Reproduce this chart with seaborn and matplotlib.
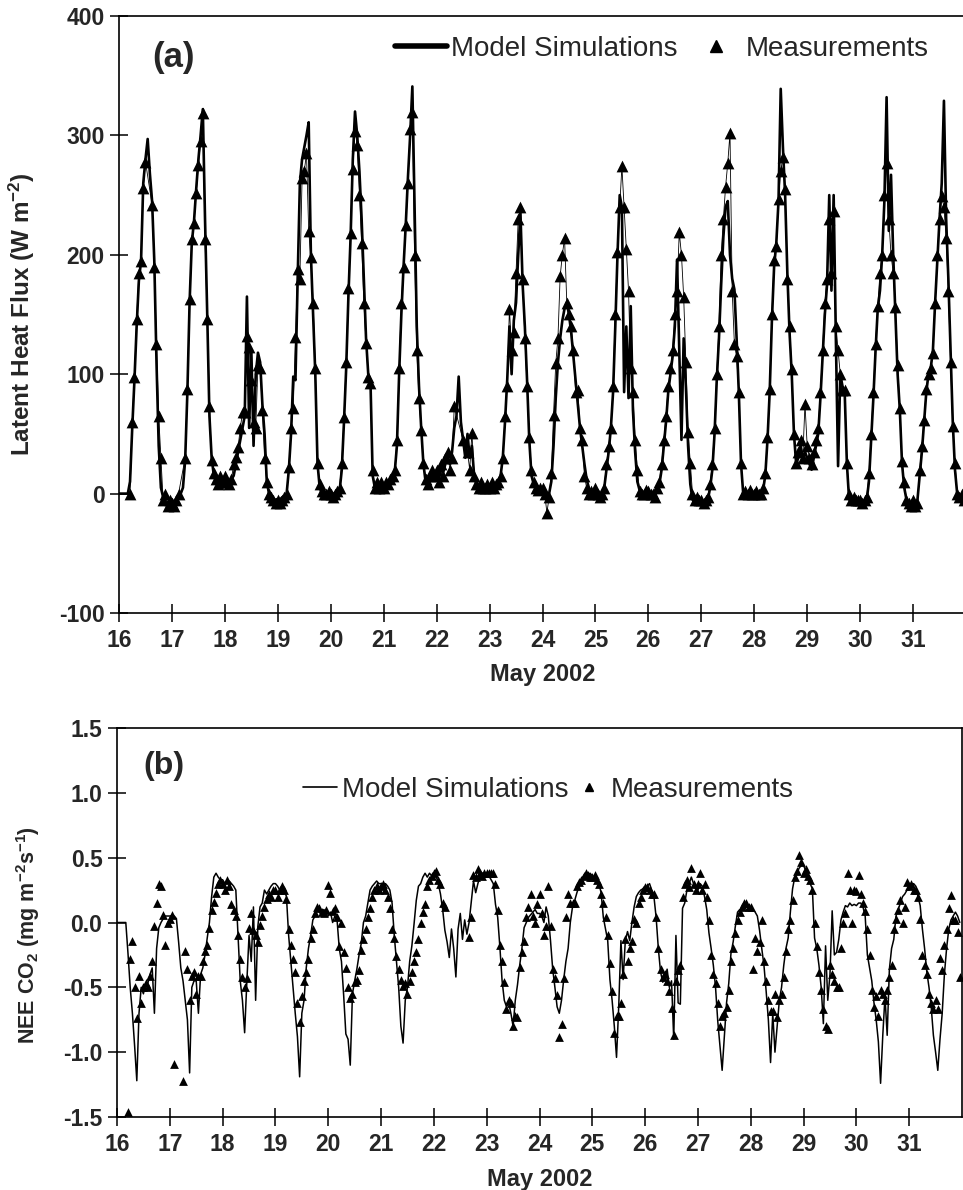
import numpy as np
import pandas as pd
import matplotlib
matplotlib.use("Agg")
import matplotlib.pyplot as plt
from matplotlib.lines import Line2D
import seaborn as sns

N = None
DAYS = list(range(16, 32))          # May 2002, hourly samples (hour 0..23 per row)

# ---------------- (a) Latent heat flux, W m-2 ----------------
LE_MODEL = [
    [0, 0, 0, 0, 0, 10, 55, 95, 140, 178, 195, 260, 280, 297, 268, 245, 195, 110, 40, 5, -3, -8, -8, -5],
    [-5, -8, -5, -3, 0, 5, 28, 85, 160, 210, 228, 255, 280, 300, 322, 230, 150, 65, 30, 15, 10, 8, 10, 5],
    [10, 8, 10, 12, 15, 25, 35, 45, 55, 65, 165, 55, 120, 40, 100, 118, 110, 75, 50, 10, 0, -3, -5, -5],
    [-5, -5, -3, -5, 0, 20, 50, 98, 95, 180, 260, 280, 290, 300, 311, 200, 150, 100, 25, 5, 0, 2, 0, 0],
    [0, -3, 0, 0, 2, 20, 60, 105, 165, 215, 280, 320, 300, 270, 230, 180, 130, 100, 95, 15, 5, 8, 5, 8],
    [5, 8, 10, 10, 12, 18, 40, 100, 150, 190, 225, 265, 300, 341, 240, 140, 90, 55, 25, 10, 8, 12, 18, 15],
    [15, 12, 20, 18, 25, 30, 25, 35, 55, 65, 98, 60, 45, 30, 50, 30, 40, 15, 8, 5, 8, 5, 5, 5],
    [5, 5, 8, 8, 10, 15, 30, 60, 95, 140, 100, 145, 160, 200, 235, 175, 140, 95, 45, 15, 8, 5, 3, 3],
    [5, 2, 0, 0, 10, 40, 80, 110, 130, 145, 155, 160, 150, 135, 115, 95, 75, 55, 40, 25, 12, 5, 0, -2],
    [5, 0, -2, 0, 5, 20, 35, 55, 85, 140, 200, 250, 240, 85, 140, 80, 157, 70, 35, 10, 3, 0, 0, 2],
    [2, 0, 0, -2, 3, 8, 20, 40, 60, 85, 100, 115, 140, 196, 120, 45, 130, 90, 40, 8, -5, -8, -8, -8],
    [-5, -8, -8, -5, 5, 20, 50, 95, 130, 175, 215, 240, 245, 200, 180, 171, 130, 85, 25, 0, 0, 0, 0, 0],
    [0, 0, 0, 0, 3, 15, 45, 85, 145, 190, 210, 245, 339, 290, 250, 185, 135, 100, 50, 25, 30, 40, 28, 35],
    [30, 25, 20, 30, 40, 50, 80, 115, 150, 175, 250, 170, 250, 130, 23, 100, 90, 85, 25, -5, -5, -8, -8, -8],
    [-5, -8, -8, -5, 10, 45, 80, 120, 155, 170, 200, 245, 332, 220, 267, 200, 150, 100, 70, 25, 5, -5, -8, -8],
    [-5, -8, -5, 15, 35, 60, 85, 100, 105, 120, 160, 195, 230, 260, 329, 230, 180, 120, 60, 20, 0, -3, -3, -5],
]
LE_MEAS = [
    [N, N, N, N, N, 0, 60, 98, 146, 185, 195, 256, 278, N, N, 242, 190, 125, 65, 30, -5, 0, -10, -5],
    [-8, -10, -5, 0, N, N, 30, 88, 163, 213, 227, 252, 275, 295, 319, 213, 146, 73, 28, 17, 12, 8, 15, 10],
    [15, 10, 8, 12, 25, 31, 39, 55, 68, 68, 132, 123, 95, 60, 55, 108, 105, 70, 30, 10, 0, -3, -5, -8],
    [-5, -8, -5, -3, 0, 22, 55, 72, 131, 188, 180, 264, 270, 285, 220, 198, 160, 105, 26, 8, 2, 0, 0, 2],
    [0, -3, 0, 2, 5, 26, 64, 110, 172, 218, 272, 304, 292, 250, 210, 160, 126, 98, 93, 20, 5, 10, 5, 10],
    [5, 10, 8, 12, 15, 20, 45, 105, 160, 190, 225, 260, 305, 320, 200, 120, 80, 53, 26, 12, 8, 15, 20, 15],
    [20, 10, 25, 15, 30, 35, 20, 30, 73, N, N, N, 45, N, 35, 20, 51, 15, 8, 5, 10, 5, 5, 8],
    [5, 10, 5, 8, 10, 15, 30, 65, 90, 155, 120, 135, 185, 230, 240, 180, 130, 90, 47, 20, 10, 5, 3, 5],
    [5, 0, -16, -3, 17, 66, 109, 130, 182, 200, 214, 160, 150, 140, 120, 85, 87, 55, 45, 15, 5, 0, 2, 0],
    [5, 0, -3, 0, 5, 25, 40, 55, 90, 150, 202, 240, 274, 240, 205, 170, 105, 85, 45, 20, 2, 0, 0, 3],
    [2, 0, 0, -3, 5, 10, 25, 45, 65, 90, 105, 120, 150, 170, 219, 200, 165, 110, 52, 26, 0, -5, -3, -5],
    [-5, -8, -5, -3, 8, 25, 55, 100, 140, 200, 230, 257, 277, 302, 170, 125, 115, 85, 26, 0, 2, 0, 3, 0],
    [0, 2, 0, 0, 5, 17, 47, 88, 150, 196, 207, 247, 270, 282, 255, 180, 140, 104, 50, 26, 35, 45, 30, 75],
    [40, 30, 25, 35, 45, 55, 85, 120, 160, 180, 230, 185, 237, 140, 120, 100, 87, 87, 26, 0, -5, -3, -5, -5],
    [-5, -8, -5, -3, 17, 50, 85, 125, 157, 185, 200, 250, 277, 230, 200, 185, 156, 108, 72, 27, 10, -5, -8, -10],
    [-5, -10, -8, 20, 40, 62, 88, 100, 105, 118, 160, 200, 230, 249, 240, 214, 170, 110, 57, 26, 0, -3, 0, -5],
]

# ---------------- (b) NEE CO2, mg m-2 s-1 ----------------
NEE_MODEL = [
    [0, 0, 0, 0, 0, -0.24, -0.5, -0.7, -0.95, -1.22, -0.7, -0.5, -0.55, -0.47, -0.47, -0.4, -0.35, -0.7, -0.2, -0.04, 0.0, 0.03, 0.05, 0.05],
    [0.05, 0.05, 0.05, 0.03, -0.15, -0.35, -0.45, -0.6, -0.75, -1.16, -0.5, -0.45, -0.45, -0.7, -0.4, -0.35, -0.25, -0.12, 0.0, 0.2, 0.35, 0.38, 0.35, 0.33],
    [0.33, 0.3, 0.3, 0.32, 0.3, 0.28, 0.25, -0.1, -0.45, -0.6, -0.85, -0.46, -0.1, -0.3, 0.12, -0.6, -0.03, 0.12, 0.15, 0.25, 0.22, 0.25, 0.28, 0.3],
    [0.3, 0.28, 0.25, 0.28, 0.25, 0.2, -0.1, -0.3, -0.5, -0.7, -0.88, -1.19, -0.7, -0.6, -0.35, -0.2, -0.1, 0.02, 0.05, 0.11, 0.08, 0.05, 0.1, 0.05],
    [0.05, 0.08, 0.0, 0.05, 0.02, -0.2, -0.3, -0.56, -0.86, -0.9, -1.1, -0.55, -0.45, -0.36, -0.25, -0.16, 0.0, 0.05, 0.15, 0.25, 0.28, 0.3, 0.32, 0.3],
    [0.3, 0.28, 0.3, 0.28, 0.25, 0.15, -0.1, -0.3, -0.5, -0.8, -0.93, -0.6, -0.5, -0.3, -0.18, -0.01, 0.17, 0.28, 0.3, 0.35, 0.38, 0.35, 0.38, 0.36],
    [0.38, 0.36, 0.3, 0.22, 0.1, -0.06, -0.15, -0.27, -0.05, -0.2, -0.42, -0.05, 0.07, -0.13, 0.02, -0.09, 0.0, 0.16, 0.32, 0.23, 0.3, 0.36, 0.38, 0.38],
    [0.38, 0.36, 0.33, 0.3, 0.14, 0.04, -0.19, -0.45, -0.6, -0.65, -0.62, -0.7, -0.8, -0.6, -0.48, -0.33, -0.2, -0.04, 0.0, 0.04, 0.06, 0.08, 0.1, 0.07],
    [0.07, 0.05, 0.0, 0.12, 0.05, -0.14, -0.36, -0.5, -0.65, -0.7, -0.6, -0.44, -0.3, -0.2, 0.0, 0.12, 0.17, 0.23, 0.28, 0.33, 0.36, 0.38, 0.36, 0.38],
    [0.36, 0.35, 0.33, 0.3, 0.23, 0.04, -0.05, -0.14, -0.44, -0.6, -0.8, -1.04, -0.65, -0.14, -0.44, -0.14, -0.07, -0.14, 0.0, 0.12, 0.2, 0.23, 0.25, 0.26],
    [0.26, 0.28, 0.3, 0.25, 0.2, 0.04, -0.2, -0.38, -0.46, -0.44, -0.36, -0.5, -0.45, -0.9, -0.1, -0.62, -0.63, 0.11, 0.15, 0.25, 0.3, 0.35, 0.3, 0.28],
    [0.25, 0.3, 0.28, 0.2, 0.1, -0.08, -0.2, -0.33, -0.5, -0.76, -0.95, -1.14, -0.88, -0.62, -0.47, -0.24, -0.15, -0.03, 0.08, 0.1, 0.1, 0.12, 0.1, 0.1],
    [0.1, 0.1, 0.08, 0.05, -0.06, -0.2, -0.33, -0.53, -0.75, -1.08, -0.7, -1.0, -0.8, -0.6, -0.5, -0.33, -0.2, -0.12, 0.08, 0.26, 0.35, 0.38, 0.42, 0.44],
    [0.44, 0.4, 0.36, 0.3, 0.26, -0.12, -0.2, -0.33, -0.5, -0.78, -0.18, -0.6, -0.4, 0.09, -0.25, -0.23, -0.13, 0.02, 0.08, 0.13, 0.12, 0.15, 0.13, 0.14],
    [0.13, 0.15, 0.15, 0.12, 0.05, -0.25, -0.35, -0.45, -0.62, -0.75, -0.92, -1.24, -0.87, -0.57, -0.87, -0.36, -0.2, -0.13, 0.05, 0.1, 0.15, 0.2, 0.22, 0.25],
    [0.25, 0.28, 0.3, 0.28, 0.2, 0.13, -0.05, -0.2, -0.38, -0.5, -0.65, -0.87, -1.0, -1.14, -0.9, -0.7, -0.4, -0.2, -0.05, 0.02, 0.05, 0.08, 0.05, 0.0],
]
NEE_MEAS = [
    [N, N, N, N, N, -1.46, -0.28, -0.14, -0.5, -0.74, -0.41, -0.62, -0.5, -0.47, -0.5, -0.41, -0.3, -0.03, 0.15, 0.3, 0.28, 0.06, -0.17, 0.0],
    [0.03, 0.06, -1.09, N, N, N, -1.22, -0.22, -0.36, -0.6, -0.41, -0.38, -0.55, -0.41, -0.41, -0.3, -0.22, -0.17, -0.04, 0.1, 0.16, 0.23, 0.3, 0.33],
    [0.3, 0.25, 0.33, 0.28, 0.14, 0.1, 0.05, -0.1, -0.28, -0.42, -0.5, -0.43, -0.04, 0.07, -0.06, -0.1, -0.15, -0.02, 0.05, 0.12, 0.18, 0.22, 0.2, 0.25],
    [0.25, 0.2, 0.25, 0.28, 0.25, 0.18, -0.05, -0.17, -0.28, -0.38, -0.62, -0.77, -0.57, -0.45, -0.38, -0.28, -0.12, -0.05, 0.07, 0.12, 0.11, 0.08, 0.07, 0.1],
    [0.29, 0.23, 0.09, 0.11, 0.04, -0.18, 0.0, -0.23, -0.35, -0.5, -0.58, -0.55, -0.46, -0.44, -0.37, -0.21, -0.13, -0.05, 0.04, 0.11, 0.2, 0.25, 0.28, 0.25],
    [0.28, 0.3, 0.25, 0.2, 0.11, -0.05, -0.12, -0.26, -0.36, -0.44, -0.49, -0.47, -0.55, -0.45, -0.38, -0.3, -0.23, -0.13, 0.0, 0.08, 0.14, 0.28, 0.33, 0.36],
    [0.38, 0.4, 0.33, 0.3, 0.15, 0.12, N, N, N, N, N, N, N, N, N, N, -0.11, 0.04, 0.37, 0.35, 0.41, 0.38, 0.36, 0.38],
    [0.38, 0.38, 0.38, 0.38, 0.3, 0.1, -0.17, -0.3, -0.46, -0.67, -0.6, -0.62, -0.8, -0.72, -0.73, -0.34, -0.23, -0.14, 0.04, 0.12, 0.22, 0.05, 0.0, 0.14],
    [0.22, 0.07, -0.1, -0.03, 0.28, -0.03, -0.36, -0.43, -0.56, -0.88, -0.78, -0.43, 0.04, 0.22, 0.15, 0.15, 0.15, 0.28, 0.31, 0.33, 0.36, 0.38, 0.37, 0.35],
    [0.35, 0.37, 0.33, 0.3, 0.22, 0.15, 0.04, -0.1, -0.31, -0.53, -0.85, -0.72, -0.72, -0.62, -0.4, -0.13, -0.3, -0.2, -0.14, 0.03, 0.0, 0.15, 0.2, 0.25],
    [0.27, 0.27, 0.25, 0.22, 0.22, 0.04, -0.2, -0.36, -0.42, -0.4, -0.45, -0.53, -0.66, -0.87, -0.45, -0.37, -0.33, 0.2, 0.3, 0.33, 0.27, 0.42, 0.3, 0.25],
    [0.3, 0.38, 0.25, 0.3, 0.2, 0.02, -0.25, -0.4, -0.47, -0.62, -0.8, -0.72, -0.7, -0.65, -0.52, -0.3, -0.2, -0.08, 0.02, 0.08, 0.12, 0.15, 0.15, 0.12],
    [0.12, -0.36, -0.12, -0.22, -0.15, 0.02, -0.3, -0.45, -0.6, -0.68, -0.68, -0.55, -0.73, -0.6, -0.55, -0.42, -0.22, -0.05, 0.02, 0.17, 0.35, 0.4, 0.52, 0.47],
    [0.38, 0.41, 0.36, 0.33, 0.25, 0.0, -0.18, -0.38, -0.52, -0.67, -0.8, -0.82, -0.33, -0.4, -0.45, -0.5, -0.5, -0.2, 0.0, 0.07, 0.38, 0.25, 0.0, 0.25],
    [0.24, 0.37, 0.22, 0.15, 0.09, -0.05, -0.25, -0.52, -0.65, -0.57, -0.72, -0.52, -0.55, -0.6, -0.52, -0.42, -0.33, -0.05, 0.03, 0.1, 0.17, 0.0, 0.12, 0.31],
    [0.28, 0.3, 0.25, 0.25, 0.2, 0.03, -0.25, -0.33, -0.4, -0.55, -0.62, -0.67, -0.6, -0.67, -0.27, -0.37, -0.17, -0.05, 0.11, 0.21, 0.02, 0.02, -0.07, -0.42],
]

X_TICKS = list(range(16, 32))
X_LABELS = [str(d) for d in X_TICKS]
LE_TICKS = [-100, 0, 100, 200, 300, 400]
NEE_TICKS = [-1.5, -1.0, -0.5, 0.0, 0.5, 1.0, 1.5]
NEE_LABELS = ["-1.5", "-1.0", "-0.5", "0.0", "0.5", "1.0", "1.5"]

# ------------------------------------------------------------------
sns.set_theme(style="ticks")
plt.rcParams["font.family"] = ["Liberation Sans", "DejaVu Sans"]
plt.rcParams["mathtext.default"] = "regular"
plt.rcParams["axes.unicode_minus"] = False


def flat(rows):
    return np.array([np.nan if v is None else v for r in rows for v in r], dtype=float)


time = np.array([d + h / 24.0 for d in DAYS for h in range(24)])
df_le = pd.DataFrame({"t": time, "model": flat(LE_MODEL), "meas": flat(LE_MEAS)})
df_nee = pd.DataFrame({"t": time, "model": flat(NEE_MODEL), "meas": flat(NEE_MEAS)})

W, H = 963, 1190
fig = plt.figure(figsize=(W / 100, H / 100), dpi=100)
ax1 = fig.add_axes([119 / W, 1 - 613 / H, 847 / W, 597 / H])
ax2 = fig.add_axes([117 / W, 1 - 1117 / H, 845 / W, 389 / H])

# ---- panel (a)
sns.lineplot(data=df_le, x="t", y="model", color="black", lw=1.9, ax=ax1,
             estimator=None, sort=False, legend=False)
le_m = df_le.dropna(subset=["meas"])
sns.lineplot(data=le_m, x="t", y="meas", color="black", lw=0.6, ax=ax1,
             estimator=None, sort=False, legend=False)
sns.scatterplot(data=le_m, x="t", y="meas", marker="^", s=72, color="black",
                edgecolor="black", linewidth=0, ax=ax1, zorder=3, legend=False)

# ---- panel (b)
sns.lineplot(data=df_nee, x="t", y="model", color="black", lw=1.1, ax=ax2,
             estimator=None, sort=False, legend=False)
nee_m = df_nee.dropna(subset=["meas"])
sns.scatterplot(data=nee_m, x="t", y="meas", marker="^", s=40, color="black",
                edgecolor="black", linewidth=0, ax=ax2, zorder=3, legend=False)

for ax in (ax1, ax2):
    ax.set_xlim(16, 32)
    ax.set_xticks(X_TICKS)
    ax.set_xticklabels(X_LABELS, fontsize=16.5, fontweight="bold")
    ax.tick_params(direction="inout", length=13, width=1.1, color="black", pad=4)
    ax.tick_params(axis="x", pad=5)
    for sp in ax.spines.values():
        sp.set_linewidth(1.2)
        sp.set_color("black")
    ax.grid(False)
    ax.set_facecolor("white")

ax1.spines["right"].set_visible(False)
ax1.set_ylim(-100, 400)
ax1.set_yticks(LE_TICKS)
ax1.set_yticklabels([str(v) for v in LE_TICKS], fontsize=16.5, fontweight="bold")
ax2.set_ylim(-1.5, 1.5)
ax2.set_yticks(NEE_TICKS)
ax2.set_yticklabels(NEE_LABELS, fontsize=16.5, fontweight="bold")

ax1.set_xlabel("May 2002", fontsize=17, fontweight="bold", va="top")
ax1.xaxis.set_label_coords(0.5, -0.084)
ax2.set_xlabel("May 2002", fontsize=17, fontweight="bold", va="top")
ax2.xaxis.set_label_coords(0.5, -0.131)
ax1.set_ylabel("Latent Heat Flux (W m$^{-2}$)", fontsize=17.5, fontweight="bold")
ax1.yaxis.set_label_coords(-0.097, 0.5)
ax2.set_ylabel("NEE CO$_2$ (mg m$^{-2}$s$^{-1}$)", fontsize=15.5, fontweight="bold")
ax2.yaxis.set_label_coords(-0.089, 0.468)

fig.text(152 / W, 1 - 58 / H, "(a)", fontsize=25, fontweight="bold", ha="left", va="center")
fig.text(143 / W, 1 - 766 / H, "(b)", fontsize=23, fontweight="bold", ha="left", va="center")

h_a = [Line2D([], [], color="black", lw=4),
       Line2D([], [], color="black", marker="^", ls="none", ms=9)]
ax1.legend(h_a, ["Model Simulations", "Measurements"], loc="center left",
           bbox_to_anchor=(0.3259, 0.945), ncol=2, frameon=False, fontsize=20,
           handlelength=1.87, handletextpad=0.15, columnspacing=0.43,
           borderpad=0, borderaxespad=0)
h_b = [Line2D([], [], color="black", lw=1.2),
       Line2D([], [], color="black", marker="^", ls="none", ms=6)]
ax2.legend(h_b, ["Model Simulations", "Measurements"], loc="center left",
           bbox_to_anchor=(0.2201, 0.8406), ncol=2, frameon=False, fontsize=20,
           handlelength=1.22, handletextpad=0.18, columnspacing=0.14,
           borderpad=0, borderaxespad=0)

fig.savefig("out.png", dpi=100, facecolor="white")
